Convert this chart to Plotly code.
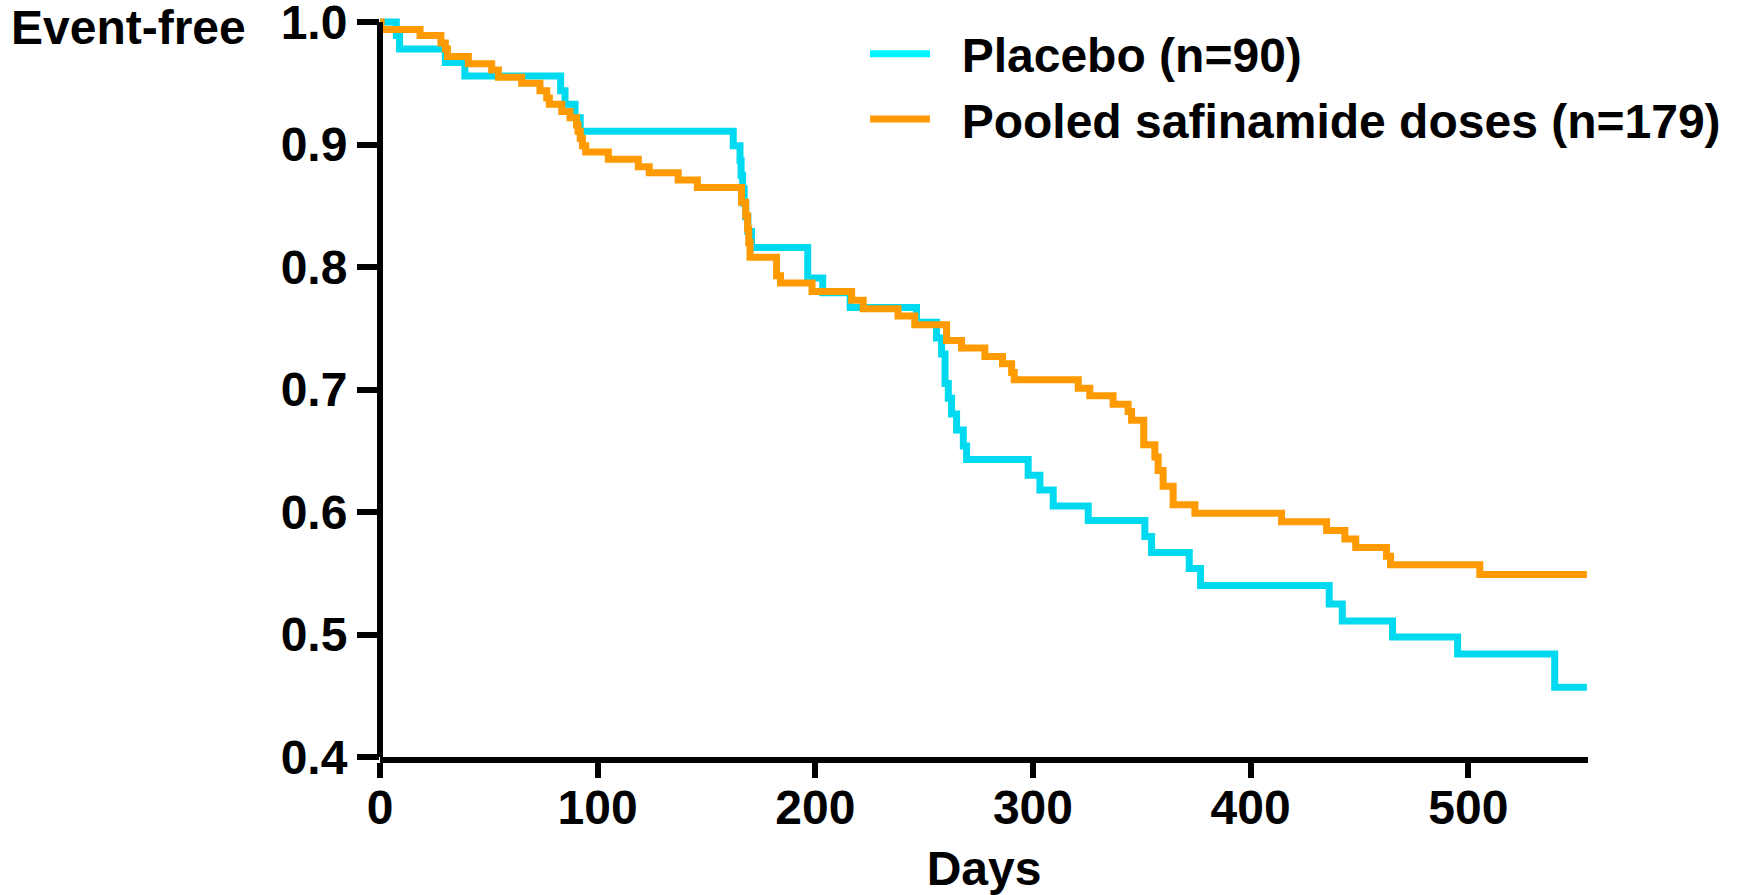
import plotly.graph_objects as go

# Kaplan-Meier event-free estimates: day of each step and survival after it
placebo_days = [0, 7.5, 9, 30, 39, 83, 85, 89.6, 92, 162.3, 165.4, 165.9, 166.6,
                167.3, 168, 169, 170.7, 196.5, 203.4, 216, 246.5, 255.7, 258,
                259.6, 261.1, 262.6, 264.9, 268, 269.5, 297.8, 303.2, 309.3,
                325.4, 351.4, 354.5, 371.8, 377, 436.1, 442.1, 465.2, 495.1,
                539.7, 554.5]
placebo_surv = [1.0, 0.989, 0.978, 0.967, 0.956, 0.944, 0.933, 0.922, 0.911,
                0.899, 0.887, 0.875, 0.864, 0.852, 0.841, 0.829, 0.816, 0.791,
                0.779, 0.767, 0.755, 0.742, 0.729, 0.705, 0.693, 0.680, 0.667,
                0.654, 0.643, 0.630, 0.618, 0.605, 0.593, 0.580, 0.567, 0.554,
                0.540, 0.525, 0.511, 0.498, 0.484, 0.457, 0.457]

pooled_days = [0, 0.5, 18.4, 28, 30, 31, 40.6, 51.3, 54.4, 65.1, 73.5, 76.6,
               77.8, 83.5, 87.3, 90.3, 91, 92, 93, 94.5, 104.9, 118.7, 123.7,
               137, 145.8, 166.1, 168, 168.9, 169.4, 170, 182.2, 184, 198.5,
               216.7, 222, 238, 245.7, 260.3, 267.2, 277.9, 286, 290.2, 291.4,
               320.8, 326.1, 336.8, 343.7, 345.3, 350.9, 356, 357.5, 359.8,
               364.4, 374.4, 414.2, 434.9, 443.3, 448.3, 462.4, 464.3, 505.3,
               554.5]
pooled_surv = [1.0, 0.994, 0.989, 0.983, 0.978, 0.972, 0.966, 0.961, 0.955,
               0.950, 0.944, 0.938, 0.933, 0.927, 0.922, 0.916, 0.911, 0.905,
               0.899, 0.894, 0.888, 0.882, 0.877, 0.871, 0.865, 0.853, 0.842,
               0.831, 0.820, 0.808, 0.793, 0.787, 0.780, 0.773, 0.766, 0.760,
               0.753, 0.740, 0.734, 0.727, 0.721, 0.714, 0.708, 0.701, 0.695,
               0.688, 0.682, 0.675, 0.655, 0.645, 0.634, 0.621, 0.606, 0.599,
               0.592, 0.585, 0.578, 0.571, 0.564, 0.557, 0.549, 0.549]

series_names = ["Placebo (n=90)", "Pooled safinamide doses (n=179)"]
x_ticks = [0, 100, 200, 300, 400, 500]
y_ticks = [0.4, 0.5, 0.6, 0.7, 0.8, 0.9, 1.0]
y_tick_text = ["0.4", "0.5", "0.6", "0.7", "0.8", "0.9", "1.0"]

CYAN = "#00DAF0"
CYAN_KEY = "#00F6FF"
ORANGE = "#FF9A00"
FONT = dict(family="Liberation Sans, Arial, sans-serif", size=48,
            color="black", weight="bold")

Y_MIN, Y_MAX = 0.4, 1.005   # a little headroom so the 1.0 step is not clipped
X_MAX = 555
Y_TOP_FRAC = (1.0 - Y_MIN) / (Y_MAX - Y_MIN)

fig = go.Figure()
for days, surv, color in [(placebo_days, placebo_surv, CYAN),
                          (pooled_days, pooled_surv, ORANGE)]:
    fig.add_trace(go.Scatter(x=days, y=surv, mode="lines",
                             line=dict(color=color, width=7, shape="hv"),
                             showlegend=False, hoverinfo="skip"))

# legend keys (non-breaking spaces give the gap between key and label)
for name, color in zip(series_names, [CYAN_KEY, ORANGE]):
    fig.add_trace(go.Scatter(x=[None], y=[None], mode="lines",
                             name="\u00a0\u00a0" + name,
                             line=dict(color=color, width=7)))

# y-axis spine drawn only up to the 1.0 tick
fig.add_shape(type="line", xref="paper", yref="paper",
              x0=0, x1=0, y0=0, y1=Y_TOP_FRAC,
              line=dict(color="black", width=6))

fig.add_annotation(text="Event-free", xref="paper", yref="paper",
                   x=-0.307, y=0.985,
                   xanchor="left", yanchor="middle", showarrow=False,
                   font=FONT)

fig.update_layout(
    width=1738, height=895,
    margin=dict(l=380, r=150, t=16, b=138),
    plot_bgcolor="white", paper_bgcolor="white",
    font=FONT,
    showlegend=True,
    legend=dict(x=0.4015, y=1.0, xanchor="left", yanchor="top",
                bgcolor="rgba(0,0,0,0)", font=FONT, itemwidth=60,
                tracegroupgap=0),
    xaxis=dict(range=[0, X_MAX], tickvals=x_ticks, ticks="outside",
               ticklen=15, tickwidth=6, tickcolor="black",
               showline=True, linewidth=6, linecolor="black",
               showgrid=False, zeroline=False, tickfont=FONT,
               automargin=False, ticklabeloverflow="allow",
               ticklabelstandoff=-12,
               title=dict(text="Days", font=FONT, standoff=26)),
    yaxis=dict(range=[Y_MIN, Y_MAX], tickvals=y_ticks, ticktext=y_tick_text,
               ticks="outside", ticklen=22, tickwidth=6, tickcolor="black",
               showline=False, showgrid=False, zeroline=False,
               automargin=False, ticklabeloverflow="allow",
               tickfont=FONT, ticklabelstandoff=0),
)

fig.write_html("out.html")
